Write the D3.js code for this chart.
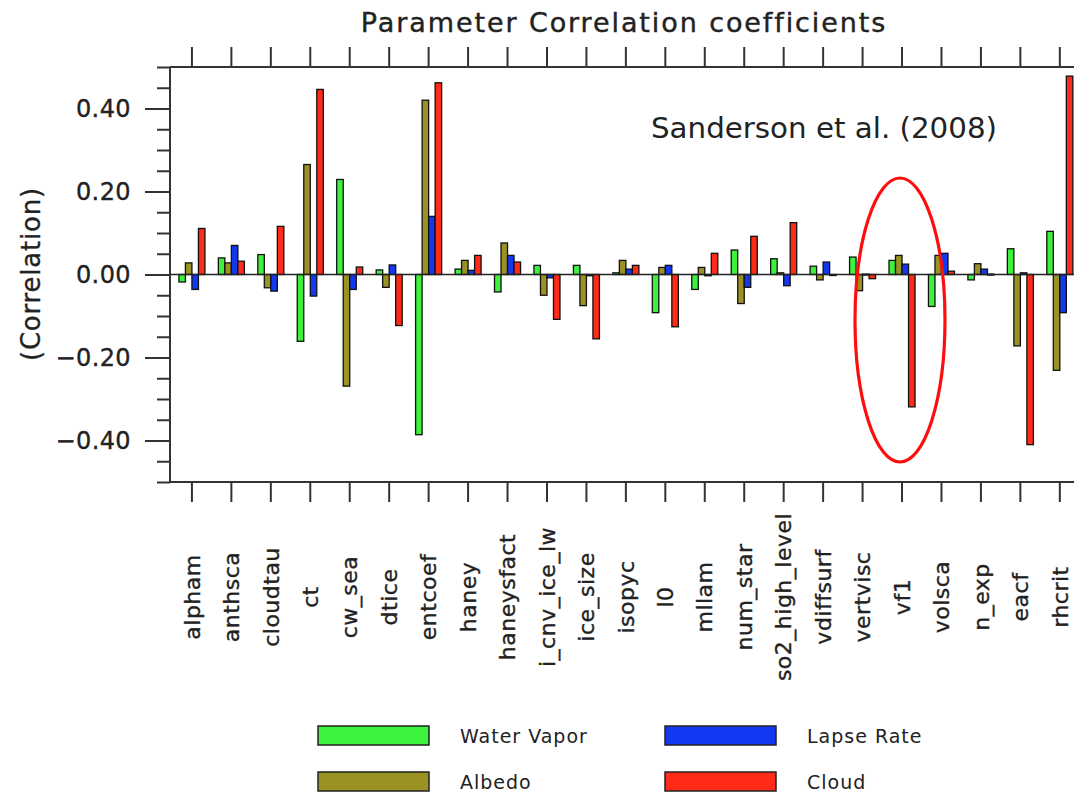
<!DOCTYPE html>
<html>
<head>
<meta charset="utf-8">
<script src="https://cdn.jsdelivr.net/npm/d3@7"></script>
<style>
  html, body { margin: 0; padding: 0; background: #fff; }
  svg { display: block; }
  text { font-family: "DejaVu Sans", sans-serif; fill: #222; }
</style>
</head>
<body>
<svg id="chart" width="1074" height="794"></svg>
<script>
const categories = ["alpham","anthsca","cloudtau","ct","cw_sea","dtice","entcoef","haney","haneysfact","i_cnv_ice_lw","ice_size","isopyc","l0","mllam","num_star","so2_high_level","vdiffsurf","vertvisc","vf1","volsca","n_exp","eacf","rhcrit"];
const seriesNames = ["Water Vapor","Albedo","Lapse Rate","Cloud"];
const waterVapor = [-0.018, 0.040, 0.048, -0.161, 0.229, 0.011, -0.386, 0.013, -0.042, 0.022, 0.022, 0.004, -0.092, -0.036, 0.059, 0.038, 0.020, 0.042, 0.034, -0.077, -0.013, 0.062, 0.104];
const albedo     = [0.028, 0.028, -0.032, 0.265, -0.269, -0.031, 0.420, 0.034, 0.076, -0.050, -0.075, 0.034, 0.017, 0.017, -0.070, 0.004, -0.013, -0.039, 0.046, 0.046, 0.026, -0.172, -0.231];
const lapseRate  = [-0.036, 0.070, -0.040, -0.052, -0.036, 0.023, 0.140, 0.010, 0.046, -0.008, -0.003, 0.013, 0.022, -0.003, -0.031, -0.027, 0.030, 0.001, 0.025, 0.051, 0.013, 0.004, -0.092];
const cloud      = [0.111, 0.032, 0.116, 0.446, 0.018, -0.123, 0.462, 0.046, 0.030, -0.108, -0.155, 0.022, -0.126, 0.051, 0.092, 0.125, -0.002, -0.010, -0.319, 0.008, 0.001, -0.410, 0.478];
const majorTicks = [-0.4, -0.2, 0.0, 0.2, 0.4];
const tickLabels = ["\u22120.40", "\u22120.20", "0.00", "0.20", "0.40"];
const titleText = "Parameter Correlation coefficients";
const yTitleText = "(Correlation)";
const noteText = "Sanderson et al. (2008)";

const seriesValues = [waterVapor, albedo, lapseRate, cloud];
const colors = ["#3df23d", "#9a9222", "#1438f2", "#ff2a18"];

const svg = d3.select("#chart");
const plotLeft = 170, plotTop = 67, plotBottom = 482;
const step = 39.45;

const x0 = d3.scaleBand().domain(categories)
  .range([172.2, 172.2 + step * categories.length])
  .paddingInner(0.34).paddingOuter(0.17);
const x1 = d3.scaleBand().domain(seriesNames).range([0, x0.bandwidth()]);
const y = d3.scaleLinear().domain([-0.5, 0.5]).range([plotBottom, plotTop]);
const color = d3.scaleOrdinal().domain(seriesNames).range(colors);

const axisColor = "#333";

// Bars
const rows = categories.map((c, i) => ({ cat: c, vals: seriesNames.map((s, k) => ({ s, v: seriesValues[k][i] })) }));
const g = svg.append("g");
g.selectAll("g.grp").data(rows).join("g")
  .attr("transform", d => `translate(${x0(d.cat)},0)`)
  .selectAll("rect").data(d => d.vals).join("rect")
  .attr("x", d => x1(d.s))
  .attr("width", x1.bandwidth())
  .attr("y", d => y(Math.max(0, d.v)))
  .attr("height", d => Math.max(1, Math.abs(y(d.v) - y(0))))
  .attr("fill", d => color(d.s))
  .attr("stroke", "#111")
  .attr("stroke-width", 1.3);

// Zero line
svg.append("line")
  .attr("x1", plotLeft).attr("x2", 1074)
  .attr("y1", y(0)).attr("y2", y(0))
  .attr("stroke", "#222").attr("stroke-width", 1.6);

// Frame
svg.append("line").attr("x1", plotLeft).attr("x2", plotLeft).attr("y1", plotTop).attr("y2", plotBottom)
  .attr("stroke", axisColor).attr("stroke-width", 2);
svg.append("line").attr("x1", plotLeft).attr("x2", 1074).attr("y1", plotTop).attr("y2", plotTop)
  .attr("stroke", axisColor).attr("stroke-width", 2);
svg.append("line").attr("x1", plotLeft).attr("x2", 1074).attr("y1", plotBottom).attr("y2", plotBottom)
  .attr("stroke", axisColor).attr("stroke-width", 2);

// Left axis: minor ticks
const minor = d3.range(-10, 11).map(k => k * 0.05);
const yMinor = svg.append("g").attr("transform", `translate(${plotLeft},0)`)
  .call(d3.axisLeft(y).tickValues(minor).tickSize(13).tickSizeOuter(0).tickFormat(""));
// Left axis: major ticks
const yMajor = svg.append("g").attr("transform", `translate(${plotLeft},0)`)
  .call(d3.axisLeft(y).tickValues(majorTicks).tickSize(25).tickSizeOuter(0).tickPadding(14)
    .tickFormat((d, i) => tickLabels[i]));
[yMinor, yMajor].forEach(a => {
  a.select(".domain").remove();
  a.selectAll(".tick line").attr("stroke", axisColor).attr("stroke-width", 2);
});
yMajor.selectAll(".tick text")
  .attr("font-family", "DejaVu Sans").attr("font-size", 24).attr("fill", "#222")
  .attr("stroke", "#222").attr("stroke-width", 0.35)
  .attr("letter-spacing", 0.4);

// Top axis
const xTop = svg.append("g").attr("transform", `translate(0,${plotTop})`)
  .call(d3.axisTop(x0).tickSize(20).tickSizeOuter(0).tickFormat(""));
xTop.select(".domain").remove();
xTop.selectAll(".tick line").attr("stroke", axisColor).attr("stroke-width", 2);

// Bottom axis
const xBot = svg.append("g").attr("transform", `translate(0,${plotBottom})`)
  .call(d3.axisBottom(x0).tickSize(20).tickSizeOuter(0));
xBot.select(".domain").remove();
xBot.selectAll(".tick line").attr("stroke", axisColor).attr("stroke-width", 2);
xBot.selectAll(".tick text")
  .attr("font-family", "DejaVu Sans").attr("font-size", 22).attr("fill", "#222")
  .attr("stroke", "#222").attr("stroke-width", 0.35)
  .attr("letter-spacing", 0.5)
  .attr("text-anchor", "middle")
  .attr("y", 0).attr("dy", "0.35em")
  .attr("transform", `translate(0,${597 - plotBottom}) rotate(-90)`);

// Title
svg.append("text")
  .attr("x", 624).attr("y", 32)
  .attr("text-anchor", "middle")
  .attr("font-size", 27).attr("letter-spacing", 1.9)
  .attr("stroke", "#222").attr("stroke-width", 0.4)
  .text(titleText);

// Y title
svg.append("text")
  .attr("transform", `translate(40,274) rotate(-90)`)
  .attr("text-anchor", "middle")
  .attr("font-size", 26).attr("letter-spacing", 0.8)
  .attr("stroke", "#222").attr("stroke-width", 0.3)
  .text(yTitleText);

// Annotation
svg.append("text")
  .attr("x", 651).attr("y", 138)
  .attr("font-family", "Open Sans, sans-serif")
  .attr("font-size", 29)
  .attr("fill", "#000")
  .attr("textLength", 346).attr("lengthAdjust", "spacingAndGlyphs")
  .text(noteText);

// Ellipse
svg.append("ellipse")
  .attr("cx", 900).attr("cy", 320).attr("rx", 45).attr("ry", 142)
  .attr("fill", "none").attr("stroke", "#ff0d0d").attr("stroke-width", 3.2);

// Legend
const legendPos = [[318, 726], [318, 772], [665, 726], [665, 772]];
const leg = svg.append("g").selectAll("g").data(seriesNames).join("g")
  .attr("transform", (d, i) => `translate(${legendPos[i][0]},${legendPos[i][1]})`);
leg.append("rect").attr("width", 111).attr("height", 19)
  .attr("fill", d => color(d)).attr("stroke", "#222").attr("stroke-width", 1.5);
leg.append("text").attr("x", 142).attr("y", 10).attr("dy", "0.35em")
  .attr("font-size", 19).attr("letter-spacing", 1).attr("fill", "#555")
  .text(d => d);
</script>
</body>
</html>
